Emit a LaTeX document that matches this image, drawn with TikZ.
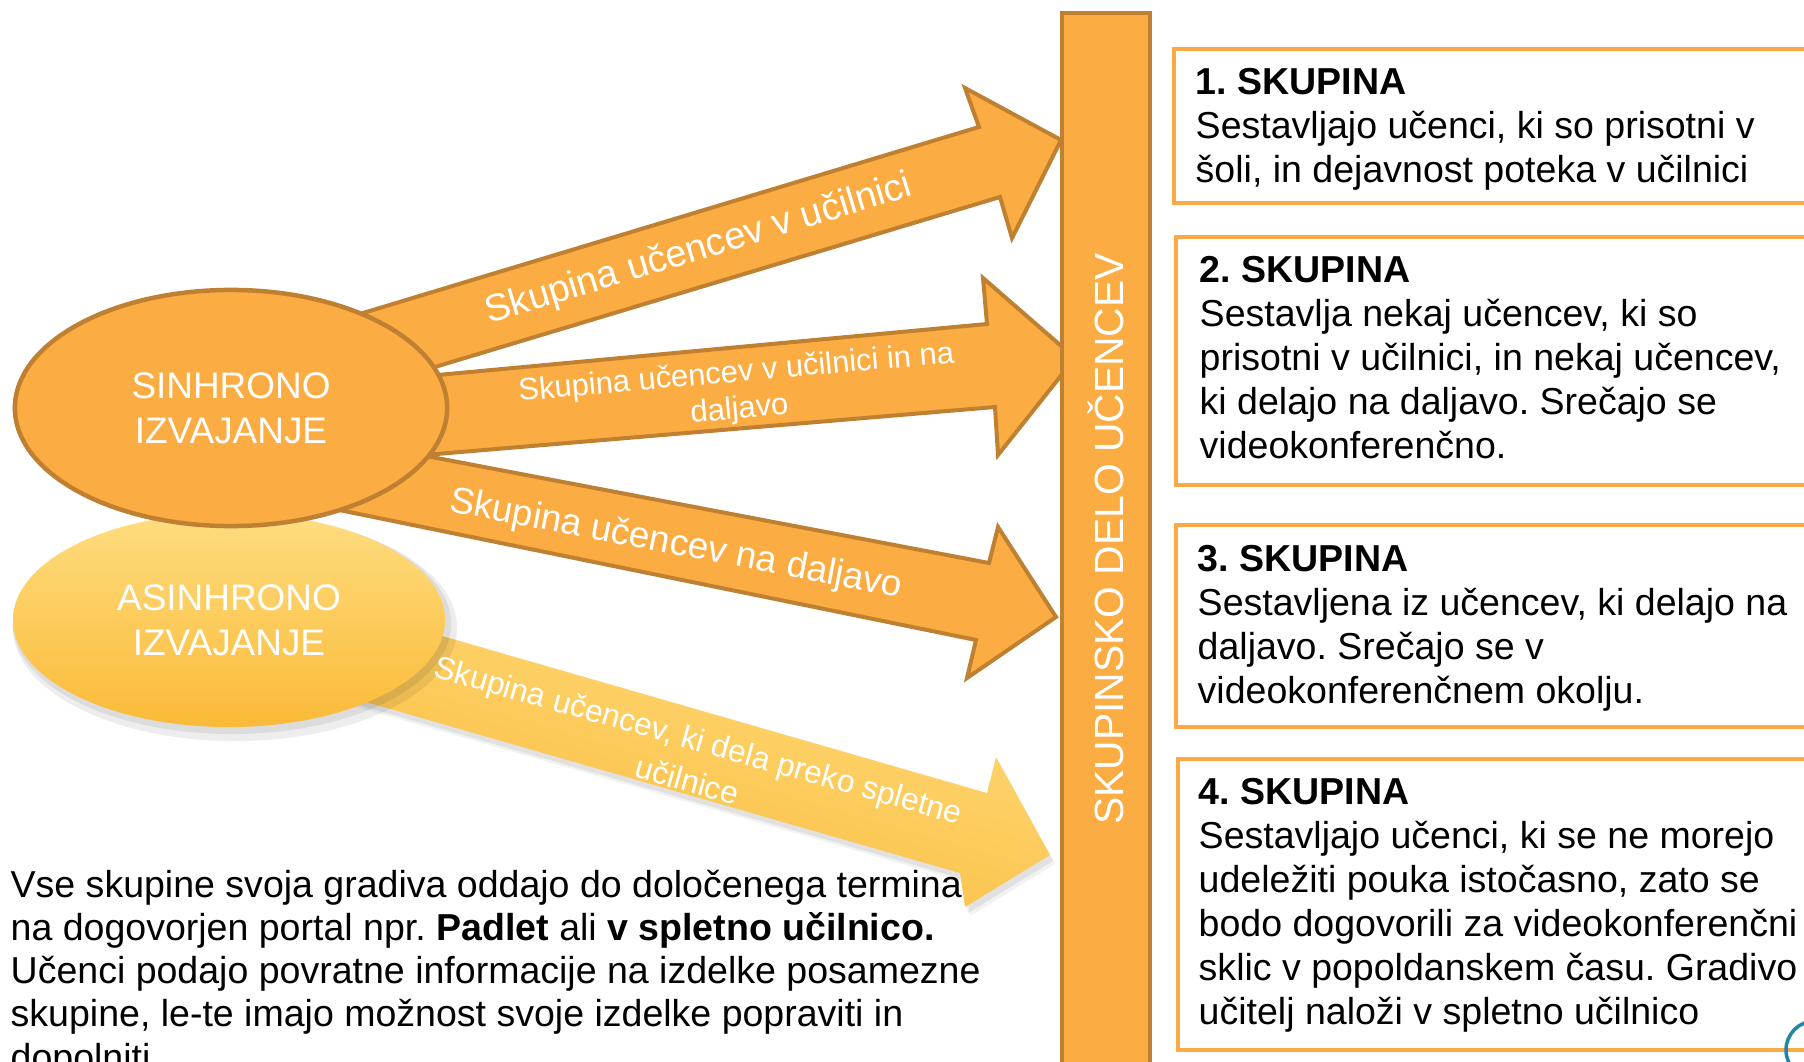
\documentclass[tikz,border=0pt]{standalone}
\usepackage{fontspec}
\setmainfont{Liberation Sans}
\usetikzlibrary{shapes.geometric}
\definecolor{ofill}{RGB}{251,172,66}
\definecolor{odark}{RGB}{192,128,50}
\definecolor{oborder}{RGB}{251,168,70}
\definecolor{ylight}{RGB}{254,221,128}
\definecolor{ydeep}{RGB}{251,186,56}
\definecolor{logoteal}{RGB}{30,135,165}
\newcommand\myfbody{\fontsize{10.67pt}{12.5pt}\selectfont}
\newcommand\myfnote{\fontsize{10.67pt}{12.3pt}\selectfont}
\newcommand\myfell{\fontsize{10.5pt}{12.8pt}\selectfont}
\newcommand\myfarA{\fontsize{10.8pt}{12pt}\selectfont}
\newcommand\myfarB{\fontsize{8.8pt}{10.4pt}\selectfont}
\newcommand\myfarC{\fontsize{10.5pt}{12pt}\selectfont}
\newcommand\myfarD{\fontsize{9.0pt}{12pt}\selectfont}
\newcommand\myfbar{\fontsize{11.6pt}{13pt}\selectfont}
\frenchspacing
\begin{document}
\begin{tikzpicture}[x=0.01cm,y=-0.01cm,
  blockarrow/.style={fill=ofill,draw=odark,line width=0.04cm,line join=miter},
  arrowtext/.style={text=white,inner sep=0pt,align=center},
  groupbox/.style={draw=oborder,line width=0.045cm,fill=white},
  boxtext/.style={anchor=north west,inner sep=0pt,align=left,font=\myfbody},
  ellnode/.style={ellipse,inner sep=0pt,minimum width=4.32cm,text=white,align=center,font=\myfell},
]
\useasboundingbox (0,0) rectangle (1804,1061);
\clip (0,0) rectangle (1804,1061);

% group boxes
\draw[groupbox] (1174,49) rectangle (1840,203);
\draw[groupbox] (1176,237) rectangle (1840,485);
\draw[groupbox] (1176,525) rectangle (1840,727);
\draw[groupbox] (1178,759) rectangle (1840,1050);

% asynchronous arrow (shadow + gradient)
\fill[black,opacity=0.07,shift={(3,6)}] (300,595) -- (987,793) -- (996,757) -- (1050,855) -- (965,907) -- (960,873) -- (300,683) -- cycle;
\fill[black,opacity=0.05,shift={(5,9)}] (300,595) -- (987,793) -- (996,757) -- (1050,855) -- (965,907) -- (960,873) -- (300,683) -- cycle;
\path[top color=ylight,bottom color=ydeep,shading angle=-16] (300,595) -- (987,793) -- (996,757) -- (1050,855) -- (965,907) -- (960,873) -- (300,683) -- cycle;

% asynchronous ellipse with soft shadow
\fill[black,opacity=0.07] (235,628) ellipse [x radius=2.22cm, y radius=1.13cm];
\fill[black,opacity=0.07] (232,624) ellipse [x radius=2.19cm, y radius=1.10cm];
\node[ellnode,minimum height=2.14cm,top color=ylight,bottom color=ydeep] (asinh) at (229,620) {ASINHRONO\\IZVAJANJE};

% synchronous arrows
\draw[blockarrow] (267,342) -- (979,127) -- (965,88) -- (1061,140) -- (1012,238) -- (1000,197) -- (292,410) -- cycle;
\draw[blockarrow] (330,385) -- (987,324) -- (983,278) -- (1075,358) -- (998,455) -- (995,407) -- (330,463) -- cycle;
\draw[blockarrow] (300,432) -- (989,563) -- (998,527) -- (1056,617) -- (967,678) -- (976,640) -- (300,502) -- cycle;

% synchronous ellipse
\node[ellnode,minimum height=2.36cm,fill=ofill,draw=odark,line width=0.045cm] (sinh) at (231,408) {SINHRONO\\IZVAJANJE};

% arrow labels
\node[arrowtext,font=\myfarA,rotate=16.8] (lab1) at (699,250) {Skupina učencev v učilnici};
\node[arrowtext,font=\myfarB,rotate=5] (lab2) at (738,392) {Skupina učencev v učilnici in na\\daljavo};
\node[arrowtext,font=\myfarC,rotate=-10.8] (lab3) at (676,545) {Skupina učencev na daljavo};
\node[arrowtext,font=\myfarD,rotate=-15.7] (lab4) at (693,760) {Skupina učencev, ki dela preko spletne\\učilnice};

% vertical bar
\draw[fill=ofill,draw=odark,line width=0.04cm] (1062,13) rectangle (1150,1090);
\node[text=white,font=\myfbar,rotate=90,inner sep=0pt] (bartext) at (1106,539) {SKUPINSKO DELO UČENCEV};

% box texts
\node[boxtext] (g1) at (1195,68) {\textbf{1. SKUPINA}\\Sestavljajo učenci, ki so prisotni v\\šoli, in dejavnost poteka v učilnici};
\node[boxtext] (g2) at (1199,256) {\textbf{2. SKUPINA}\\Sestavlja nekaj učencev, ki so\\prisotni v učilnici, in nekaj učencev,\\ki delajo na daljavo. Srečajo se\\videokonferenčno.};
\node[boxtext] (g3) at (1197,545) {\textbf{3. SKUPINA}\\Sestavljena iz učencev, ki delajo na\\daljavo. Srečajo se v\\videokonferenčnem okolju.};
\node[boxtext] (g4) at (1198,778) {\textbf{4. SKUPINA}\\Sestavljajo učenci, ki se ne morejo\\udeležiti pouka istočasno, zato se\\bodo dogovorili za videokonferenčni\\sklic v popoldanskem času. Gradivo\\učitelj naloži v spletno učilnico};

% bottom note
\node[anchor=north west,inner sep=0pt,align=left,font=\myfnote] (note) at (10,869) {Vse skupine svoja gradiva oddajo do določenega termina\\na dogovorjen portal npr. \textbf{Padlet} ali \textbf{v spletno učilnico.}\\Učenci podajo povratne informacije na izdelke posamezne\\skupine, le-te imajo možnost svoje izdelke popraviti in\\dopolniti.};

% partial logo ring
\draw[logoteal,line width=0.035cm] (1815,1050) circle [radius=0.29cm];
\end{tikzpicture}
\end{document}
